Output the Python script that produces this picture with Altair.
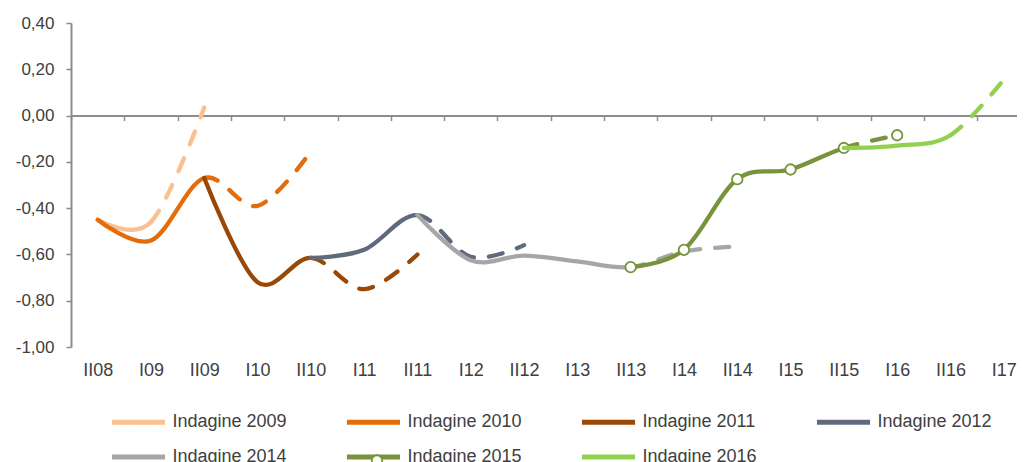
import altair as alt
import pandas as pd

# ---------------- data ----------------
labels = ["II08", "I09", "II09", "I10", "II10", "I11", "II11", "I12", "II12",
          "I13", "II13", "I14", "II14", "I15", "II15", "I16", "II16", "I17"]

series = ["Indagine 2009", "Indagine 2010", "Indagine 2011", "Indagine 2012",
          "Indagine 2014", "Indagine 2015", "Indagine 2016"]
colors = ["#FAC090", "#E46C0A", "#984807", "#5F6B7D", "#A6A6A6", "#77933C", "#92D050"]

N = None
v2009 = [-0.45, -0.46, 0.035, N, N, N, N, N, N, N, N, N, N, N, N, N, N, N]
v2010 = [-0.45, -0.54, -0.27, -0.39, -0.155, N, N, N, N, N, N, N, N, N, N, N, N, N]
v2011 = [N, N, -0.27, -0.72, -0.615, -0.75, -0.60, N, N, N, N, N, N, N, N, N, N, N]
v2012 = [N, N, N, N, -0.615, -0.58, -0.43, -0.61, -0.56, N, N, N, N, N, N, N, N, N]
v2014 = [N, N, N, N, N, N, -0.43, -0.625, -0.605, -0.63, -0.655, -0.587, -0.566, N, N, N, N, N]
v2015 = [N, N, N, N, N, N, N, N, N, N, -0.655, -0.58, -0.275, -0.233, -0.14, -0.085, N, N]
v2016 = [N, N, N, N, N, N, N, N, N, N, N, N, N, N, -0.14, -0.13, -0.085, 0.156]
values = [v2009, v2010, v2011, v2012, v2014, v2015, v2016]

# last period drawn as a solid line (after it the line is dashed)
solid_until = ["I09", "II09", "II10", "II11", "II13", "II15", "II16"]

y_ticks = [-1.0, -0.8, -0.6, -0.4, -0.2, 0.0, 0.2, 0.4]

# Point table (one row per observed value)
pt_rows = []
for name, vals in zip(series, values):
    for i, v in enumerate(vals):
        if v is not None:
            pt_rows.append({"serie": name, "idx": i, "val": v, "marker": name})
pts_df = pd.DataFrame(pt_rows)

# Line table: the solid and the dashed part of each series are drawn as
# "cardinal-open" splines whose end rows only steer the tangents, so that the
# two parts join exactly like one smoothed line.
line_rows = []
for name, vals, last in zip(series, values, solid_until):
    pts = [(i, v) for i, v in enumerate(vals) if v is not None]
    j = [p[0] for p in pts].index(labels.index(last))
    solid = [pts[1]] + pts[: j + 2]          # guide row, points, next point
    dash = pts[j - 1:] + [pts[-2]]           # previous point, points, guide row
    for part, seq_pts in (("solid", solid), ("dash", dash)):
        for s, (i, v) in enumerate(seq_pts):
            line_rows.append({"serie": name, "kind": part, "seq": s, "idx": i, "val": v})
lines_df = pd.DataFrame(line_rows)

# ---------------- styling ----------------
FONT = "Liberation Sans"
AXIS_GRAY = "#8c8c8c"
TEXT = "#404040"
OLIVE = "#77933C"
LW = 4.3
STEP = 53.3
WIDTH = 946

xs = alt.Scale(domain=[-0.5, WIDTH / STEP - 0.5], nice=False, zero=False)
ys = alt.Scale(domain=[-1.0, 0.4], nice=False, zero=False)

tick_axis = alt.Axis(values=[k - 0.5 for k in range(18)], labels=False, ticks=True,
                     tickSize=5, tickWidth=1.5, tickColor=AXIS_GRAY, domain=True,
                     domainColor=AXIS_GRAY, domainWidth=2, grid=False, title=None,
                     orient="bottom", offset=-231.4)

label_expr = "[" + ",".join("'%s'" % l for l in labels) + "][datum.value]"
label_axis = alt.Axis(values=list(range(18)), labelExpr=label_expr, ticks=False, tickSize=0,
                      domain=False, grid=False, title=None, orient="bottom",
                      labelPadding=14.5, labelFontSize=18, labelColor=TEXT, labelFont=FONT,
                      labelFlush=False, labelOverlap=False)

y_axis = alt.Axis(values=y_ticks,
                  labelExpr="replace(replace(format(datum.value, '.2f'), '.', ','), '\u2212', '-')",
                  tickSize=5, tickWidth=1.5, tickColor=AXIS_GRAY, domainColor=AXIS_GRAY,
                  domainWidth=2, grid=False, title=None, labelFontSize=17, labelColor=TEXT,
                  labelFont=FONT, labelPadding=12)

legend = alt.Legend(title=None, orient="none", legendX=56, legendY=387.5, direction="horizontal",
                    columns=4, symbolType="M-2.95,0L2.95,0", symbolSize=324, symbolStrokeWidth=5,
                    symbolDash=[1, 0], labelFontSize=18, labelColor=TEXT, labelFont=FONT,
                    labelOffset=22.5, columnPadding=49, rowPadding=13, padding=0, labelLimit=0)

color_enc = alt.Color("serie:N", scale=alt.Scale(domain=series, range=colors), legend=legend)

marker_legend = alt.Legend(
    title=None, orient="none", legendX=297, legendY=428.5, labelExpr="''", symbolType="circle",
    symbolSize=110, symbolStrokeWidth=1.8, symbolFillColor="white", symbolOpacity=1,
    padding=0, labelFontSize=18,
)

base = alt.Chart(lines_df)

layers = []
count = 0
for name in series:
    for kind in ["dash", "solid"]:
        d = base.transform_filter(alt.datum.serie == name).transform_filter(alt.datum.kind == kind)
        kw = dict(interpolate="cardinal-open", tension=0, strokeWidth=LW,
                  strokeCap="round", strokeJoin="round")
        if kind == "dash":
            kw["strokeDash"] = [14, 15]
        mk = d.mark_line(**kw)
        if count == 0:
            xa = tick_axis
        elif count == 1:
            xa = label_axis
        else:
            xa = None
        layers.append(mk.encode(
            x=alt.X("idx:Q", scale=xs, axis=xa),
            y=alt.Y("val:Q", scale=ys, axis=y_axis),
            color=color_enc,
            order="seq:Q",
        ))
        count += 1
    if name == "Indagine 2015":
        pts = alt.Chart(pts_df).transform_filter(alt.datum.serie == name).mark_point(
            shape="circle", size=110, filled=False, fill="white",
            strokeWidth=1.8, opacity=1, fillOpacity=1
        ).encode(
            x=alt.X("idx:Q", scale=xs, axis=None),
            y=alt.Y("val:Q", scale=ys, axis=y_axis),
            stroke=alt.Stroke("marker:N", scale=alt.Scale(domain=["Indagine 2015"], range=[OLIVE]),
                              legend=marker_legend),
        )
        layers.append(pts)

chart = alt.layer(*layers).resolve_axis(x="independent").properties(
    width=WIDTH, height=324,
    autosize=alt.AutoSizeParams(type="none"),
    padding={"left": 63, "top": 15, "right": 0, "bottom": 130},
).configure(font=FONT).configure_view(strokeWidth=0)

chart.save("out.html", embed_options={"renderer": "svg", "actions": False})
